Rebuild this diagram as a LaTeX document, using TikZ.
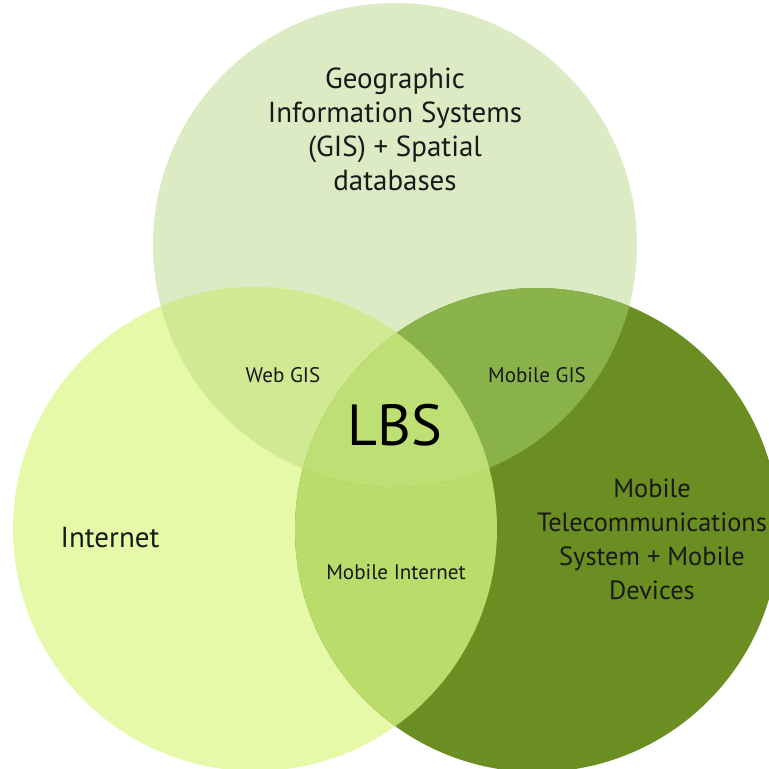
\documentclass[tikz,border=0pt]{standalone}
\usepackage{fontspec}
\setmainfont{PT Sans}
\definecolor{gisfill}{HTML}{DCEBC3}
\definecolor{netfill}{HTML}{E6F9A8}
\definecolor{telfill}{HTML}{6A8E22}
\definecolor{webfill}{HTML}{D0E992}
\definecolor{mgisfill}{HTML}{8AB24A}
\definecolor{minetfill}{HTML}{B9DC6A}
\definecolor{lbsfill}{HTML}{BDDF74}
\begin{document}
\begin{tikzpicture}[x=0.02cm,y=-0.02cm,
	big/.style={align=center,text=black!90,font=\fontsize{16.5}{19.3}\selectfont},
	small/.style={text=black!90,font=\fontsize{12}{14}\selectfont}]
	\useasboundingbox (0,0) rectangle (769,769);
	\coordinate (G) at (395,245);
	\coordinate (I) at (255,529);
	\coordinate (M) at (537,530);
	\fill[gisfill] (G) circle (242);
	\fill[netfill] (I) circle (242);
	\fill[telfill] (M) circle (242);
	\begin{scope}
		\clip (I) circle (242);
		\fill[minetfill] (M) circle (242);
	\end{scope}
	\begin{scope}
		\clip (G) circle (242);
		\fill[webfill] (I) circle (242);
		\fill[mgisfill] (M) circle (242);
		\clip (I) circle (242);
		\fill[lbsfill] (M) circle (242);
	\end{scope}
	\node[big] (gis) at (395,129) {Geographic\\Information Systems\\(GIS) + Spatial\\databases};
	\node[big] (net) at (110,538) {Internet};
	\node[big,font=\fontsize{15}{19.3}\selectfont] (tel) at (652,539) {Mobile\\Telecommunications\\System + Mobile\\Devices};
	\node[small] (web) at (283,375) {Web GIS};
	\node[small] (mgis) at (537,375) {Mobile GIS};
	\node[small] (minet) at (396,572) {Mobile Internet};
	\node[text=black,font=\fontsize{33}{36}\selectfont] (lbs) at (395,425) {LBS};
\end{tikzpicture}
\end{document}
